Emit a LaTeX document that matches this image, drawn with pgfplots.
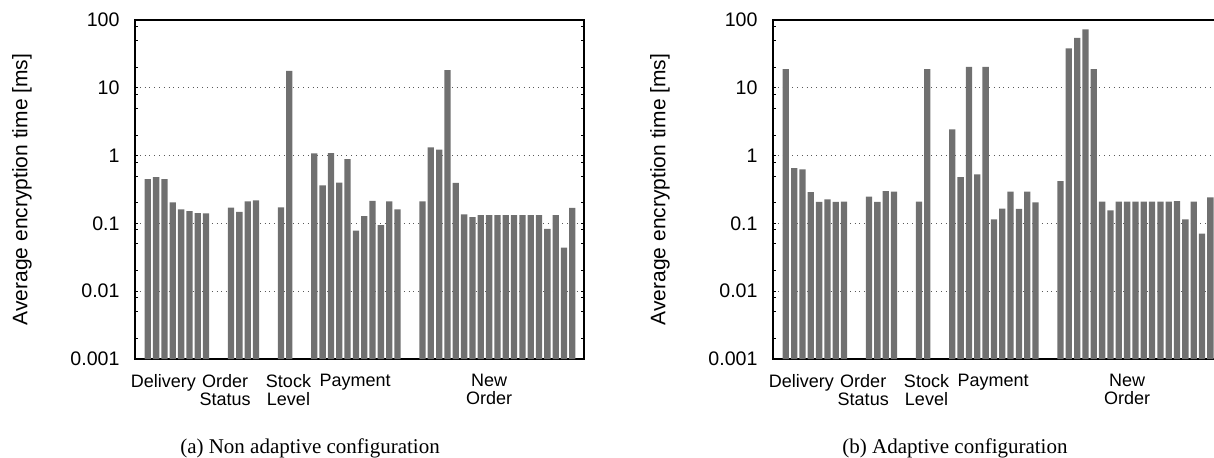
\documentclass[border=0pt]{standalone}
\usepackage{fontspec}
\setmainfont{Liberation Sans}
\newfontfamily\captfont{Liberation Serif}
\usepackage{pgfplots}
\usepackage{pgfplotstable}
\pgfplotsset{compat=1.18}
\definecolor{barcol}{RGB}{112,112,112}

\pgfplotstableread{
x y
0 0.45
1 0.48
2 0.45
3 0.205
4 0.161
5 0.152
6 0.142
7 0.140
10 0.171
11 0.148
12 0.212
13 0.219
16 0.173
17 17.7
20 1.08
21 0.365
22 1.09
23 0.40
24 0.89
25 0.078
26 0.128
27 0.215
28 0.094
29 0.212
30 0.161
33 0.212
34 1.32
35 1.22
36 18.3
37 0.395
38 0.136
39 0.124
40 0.133
41 0.133
42 0.133
43 0.133
44 0.133
45 0.133
46 0.133
47 0.133
48 0.083
49 0.133
50 0.044
51 0.169
}\nonadaptive

\pgfplotstableread{
x y
0 18.9
1 0.656
2 0.628
3 0.290
4 0.207
5 0.226
6 0.207
7 0.210
10 0.248
11 0.207
12 0.300
13 0.295
16 0.210
17 18.9
20 2.44
21 0.48
22 20.3
23 0.53
24 20.3
25 0.115
26 0.165
27 0.293
28 0.164
29 0.293
30 0.205
33 0.42
34 38.2
35 54.3
36 72.8
37 18.9
38 0.210
39 0.156
40 0.210
41 0.210
42 0.210
43 0.210
44 0.210
45 0.210
46 0.210
47 0.213
48 0.115
49 0.210
50 0.0706
51 0.243
}\adaptive

\begin{document}
\begin{tikzpicture}
\useasboundingbox (0,0) rectangle (607pt,-229pt);
\clip (0,0) rectangle (607pt,-229pt);
\begin{axis}[
  ymode=log,
  scale only axis, width=224.5pt, height=169.5pt,
  at={(67.5pt,-179.5pt)}, anchor=south west,
  ymin=0.001, ymax=100, xmin=-1.54, xmax=52.4,
  ybar, bar width=3.15pt, log origin=infty,
  ytick={0.001,0.01,0.1,1,10,100},
  yticklabels={0.001,0.01,0.1,1,10,100},
  minor ytick={0.002,0.005,0.008,0.02,0.05,0.08,0.2,0.5,0.8,2,5,8,20,50,80},
  tick align=inside, ytick pos=both,
  xtick={1.86,9.3,16.9,24.9,41},
  xticklabels={Delivery,{Order\\Status},{Stock\\Level},Payment,{New\\Order}},
  xticklabel style={align=center, font=\fontsize{9}{9.2}\selectfont, yshift=-4pt},
  xtick style={draw=none},
  yticklabel style={font=\fontsize{9.8}{11}\selectfont, xshift=-4.2pt},
  ymajorgrids, major grid style={dotted, black!65, line width=0.5pt},
  major tick length=1.6pt, minor tick length=1.6pt,
  ytick style={black, line width=0.5pt},
  axis line style={line width=0.6pt},
  ylabel={Average encryption time [ms]},
  ylabel style={at={(axis description cs:-0.252,0.5)}, anchor=center, font=\fontsize{10.5}{12}\selectfont},
]
\addplot[fill=barcol, draw=none] table[x=x,y=y] {\nonadaptive};
\end{axis}
\begin{axis}[
  ymode=log,
  scale only axis, width=224.5pt, height=169.5pt,
  at={(386.5pt,-179.5pt)}, anchor=south west,
  ymin=0.001, ymax=100, xmin=-1.54, xmax=52.4,
  ybar, bar width=3.15pt, log origin=infty,
  ytick={0.001,0.01,0.1,1,10,100},
  yticklabels={0.001,0.01,0.1,1,10,100},
  minor ytick={0.002,0.005,0.008,0.02,0.05,0.08,0.2,0.5,0.8,2,5,8,20,50,80},
  tick align=inside, ytick pos=both,
  xtick={1.86,9.3,16.9,24.9,41},
  xticklabels={Delivery,{Order\\Status},{Stock\\Level},Payment,{New\\Order}},
  xticklabel style={align=center, font=\fontsize{9}{9.2}\selectfont, yshift=-4pt},
  xtick style={draw=none},
  yticklabel style={font=\fontsize{9.8}{11}\selectfont, xshift=-4.2pt},
  ymajorgrids, major grid style={dotted, black!65, line width=0.5pt},
  major tick length=1.6pt, minor tick length=1.6pt,
  ytick style={black, line width=0.5pt},
  axis line style={line width=0.6pt},
  ylabel={Average encryption time [ms]},
  ylabel style={at={(axis description cs:-0.252,0.5)}, anchor=center, font=\fontsize{10.5}{12}\selectfont},
]
\addplot[fill=barcol, draw=none] table[x=x,y=y] {\adaptive};
\end{axis}
\node[font=\captfont\fontsize{10.5}{12}\selectfont, anchor=base] at (155pt,-227pt) {(a) Non adaptive configuration};
\node[font=\captfont\fontsize{10.5}{12}\selectfont, anchor=base] at (477.5pt,-227pt) {(b) Adaptive configuration};
\end{tikzpicture}
\end{document}
